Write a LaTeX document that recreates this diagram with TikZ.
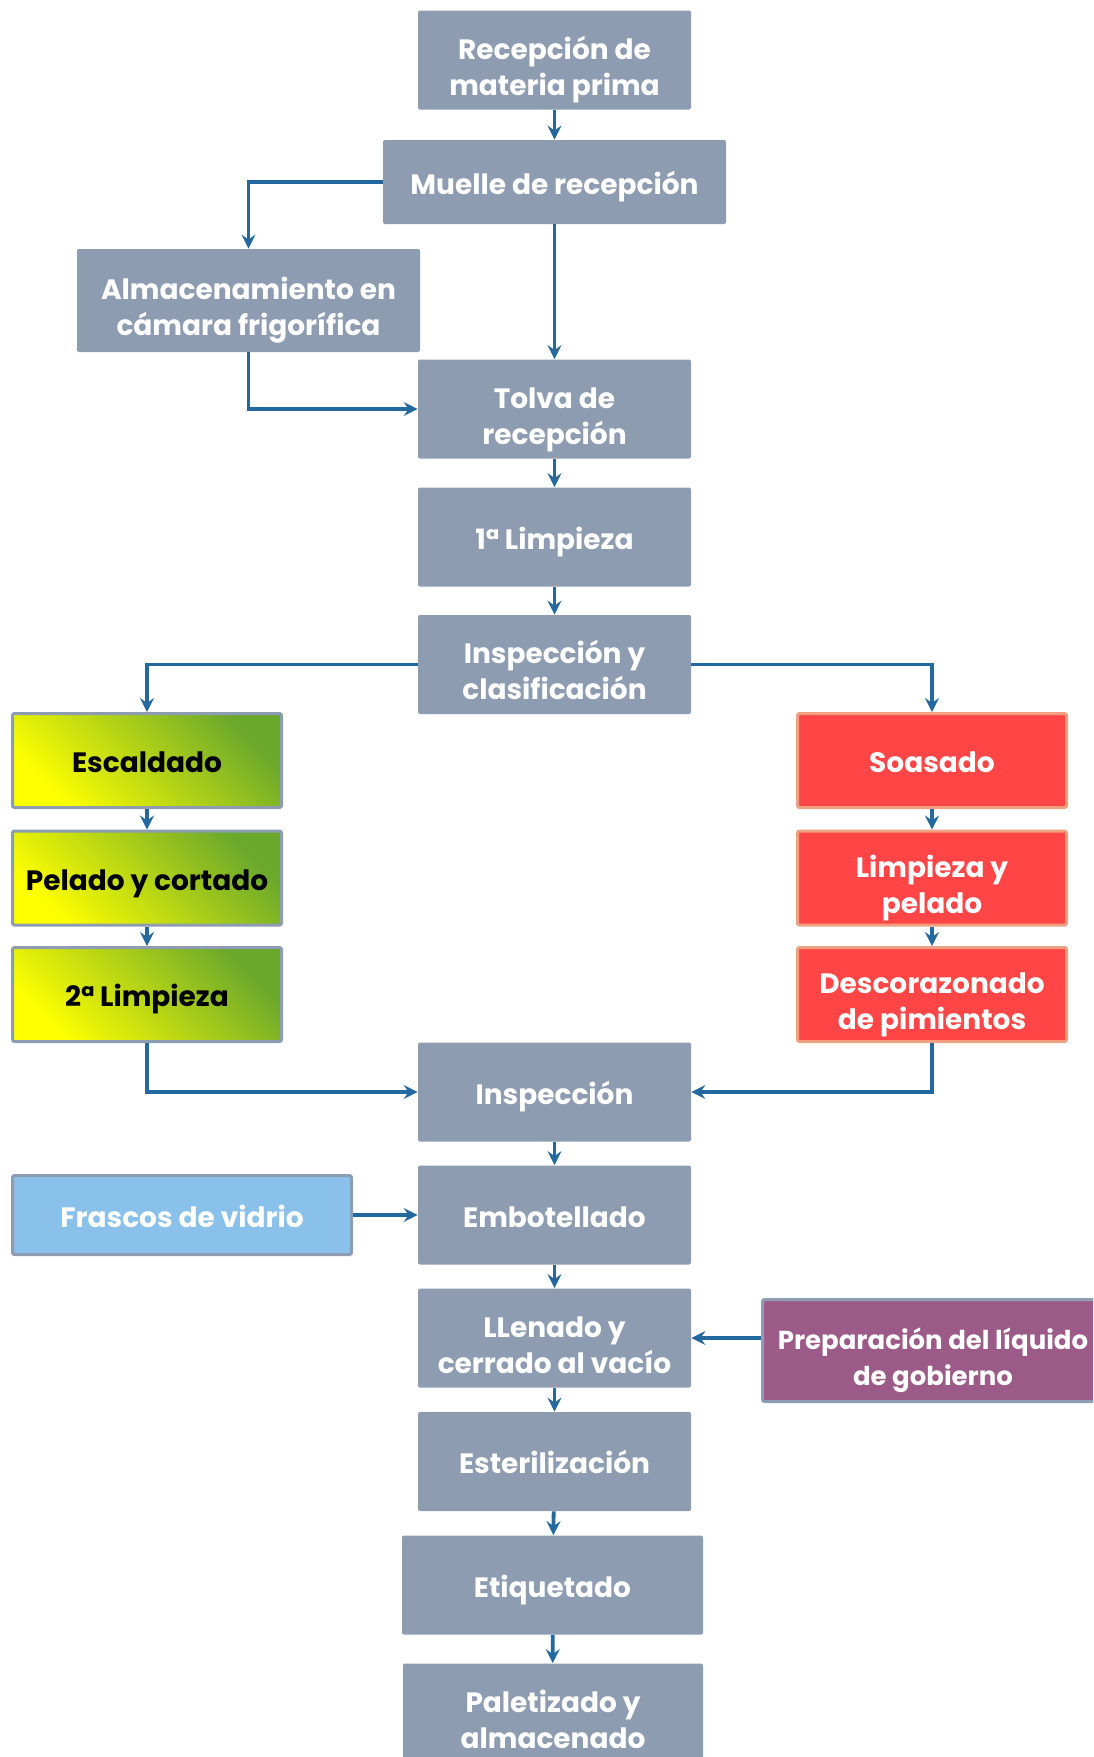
\documentclass[tikz,border=0pt]{standalone}
\usepackage{fontspec}
\setmainfont{Poppins}
\usetikzlibrary{arrows.meta}
\definecolor{boxgray}{HTML}{8D9CB1}
\definecolor{linkblue}{HTML}{2369A0}
\definecolor{leafgreen}{HTML}{6AA82C}
\definecolor{hotred}{HTML}{FF4545}
\definecolor{redrim}{HTML}{F0A080}
\definecolor{skyblue}{HTML}{8AC1EA}
\definecolor{plum}{HTML}{9C5A88}
\tikzset{
  base/.style={rectangle, rounded corners=1pt, inner sep=0pt, align=center,
    font=\fontsize{14}{18}\selectfont\bfseries,
    execute at begin node={\rule{0pt}{16.5pt}},
    execute at end node={\rule[-4.5pt]{0pt}{4.5pt}}},
  twoline/.style={execute at begin node={\rule{0pt}{39.5pt}}},
  stage/.style={base, fill=boxgray, text=white, minimum width=136.5pt, minimum height=49.5pt},
  greenbox/.style={base, draw=boxgray, line width=1.5pt, top color=leafgreen, bottom color=yellow,
    shading angle=-45, text=black, minimum width=134.5pt, minimum height=47pt},
  redbox/.style={base, draw=redrim, line width=1.5pt, fill=hotred, text=white,
    minimum width=134.5pt, minimum height=47pt},
  sidebox/.style={base, draw=boxgray, line width=1.5pt, text=white},
  link/.style={draw=linkblue, line width=1.9pt, -{Stealth[length=7pt,width=7pt,inset=2.5pt]}},
}
\begin{document}
\begin{tikzpicture}[x=0.5pt,y=-0.5pt]
\clip (0,0) rectangle (1093,1757);
% main column
\node[stage, twoline] (recep) at (554.5,60) {Recepción de\\materia prima};
\node[stage, minimum width=171.5pt, minimum height=42pt] (muelle) at (554.5,182) {Muelle de recepción};
\node[stage, twoline, minimum width=171.5pt, minimum height=51.5pt] (almac) at (248.5,300.5) {Almacenamiento en\\cámara frigorífica};
\node[stage, twoline] (tolva) at (554.5,409) {Tolva de\\recepción};
\node[stage] (limp1) at (554.5,537) {1ª Limpieza};
\node[stage, twoline] (clasif) at (554.5,664.5) {Inspección y\\clasificación};
% left branch
\node[greenbox] (escal) at (147,760.5) {Escaldado};
\node[greenbox] (pelado) at (147,878) {Pelado y cortado};
\node[greenbox] (limp2) at (147,994.5) {2ª Limpieza};
% right branch
\node[redbox] (soasa) at (932,760.5) {Soasado};
\node[redbox, twoline] (limpel) at (932,878) {Limpieza y\\pelado};
\node[redbox, twoline] (descor) at (932,994.5) {Descorazonado\\de pimientos};
% lower column
\node[stage] (insp) at (554.5,1092) {Inspección};
\node[stage] (embot) at (554.5,1215) {Embotellado};
\node[sidebox, fill=skyblue, minimum width=169.5pt, minimum height=39.5pt] (frascos) at (182,1215) {Frascos de vidrio};
\node[stage, twoline] (llenado) at (554.5,1338) {LLenado y\\cerrado al vacío};
\node[sidebox, twoline, fill=plum, minimum width=170.5pt, minimum height=51pt,
  font=\fontsize{13}{18}\selectfont\bfseries] (prep) at (933,1350.5) {Preparación del líquido\\de gobierno};
\node[stage] (ester) at (554.5,1461.5) {Esterilización};
\node[stage, minimum width=150.5pt] (etiq) at (552.5,1585) {Etiquetado};
\node[stage, twoline, minimum width=150pt] (palet) at (553,1713) {Paletizado y\\almacenado};
% connectors
\draw[link] (recep) to (muelle);
\draw[link] (muelle.west) -| (almac.north);
\draw[link] (muelle) to (tolva);
\draw[link] (almac.south) |- (tolva.west);
\draw[link] (tolva) to (limp1);
\draw[link] (limp1) to (clasif);
\draw[link] (clasif.west) -| (escal.north);
\draw[link] (clasif.east) -| (soasa.north);
\draw[link] (escal) to (pelado);
\draw[link] (pelado) to (limp2);
\draw[link] (soasa) to (limpel);
\draw[link] (limpel) to (descor);
\draw[link] (limp2.south) |- (insp.west);
\draw[link] (descor.south) |- (insp.east);
\draw[link] (insp) to (embot);
\draw[link] (frascos) to (embot);
\draw[link] (embot) to (llenado);
\draw[link] (prep.west |- llenado.east) to (llenado.east);
\draw[link] (llenado) to (ester);
\draw[link] (ester) to (etiq);
\draw[link] (etiq) to (palet);
\end{tikzpicture}
\end{document}
